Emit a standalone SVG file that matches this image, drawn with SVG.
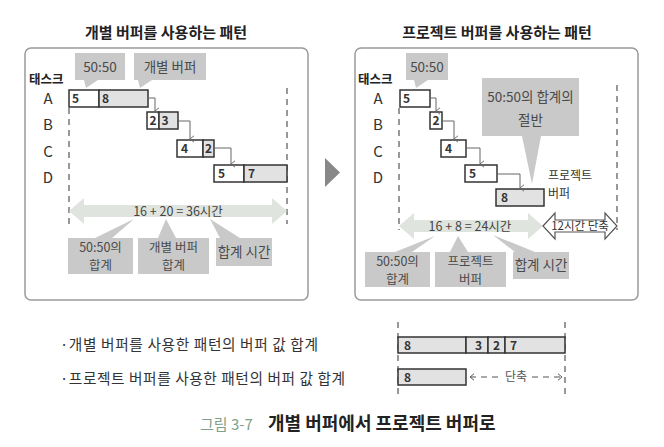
<svg xmlns="http://www.w3.org/2000/svg" width="664" height="447" viewBox="0 0 664 447">
<defs>
<style>
text{font-family:"Noto Sans CJK KR","Noto Sans",sans-serif}
.title{font-size:15px;font-weight:bold;fill:#222;text-anchor:middle}
.frame{fill:#fff;stroke:#9a9a9a;stroke-width:1.5}
.call{fill:#c9c9c9}
.ct{font-size:13.5px;fill:#4a4a4a;text-anchor:middle}
.ct2{font-size:12.5px;fill:#4a4a4a;text-anchor:middle}
.task{font-size:12.5px;font-weight:bold;fill:#222}
.row{font-size:15px;fill:#333;text-anchor:middle}
.box{fill:#fff;stroke:#333;stroke-width:1.5}
.buf{fill:#e2e2e2;stroke:#333;stroke-width:1.5}
.num{font-size:12px;font-weight:bold;fill:#333}
.dash{stroke:#555;stroke-width:1.2;stroke-dasharray:6 5;fill:none}
.conn{fill:none;stroke:#666;stroke-width:1}
.dbl{fill:#dfe4de}
.out{fill:#fff;stroke:#555;stroke-width:1.2}
.at{font-size:12.5px;fill:#444;text-anchor:middle}
.bl{font-size:14.7px;fill:#333}
</style>
<marker id="arr" viewBox="0 0 10 10" refX="5" refY="9" markerWidth="8" markerHeight="8" orient="auto-start-reverse" markerUnits="userSpaceOnUse">
<path d="M1,4 L5,9 L9,4" fill="none" stroke="#666" stroke-width="1.2"/>
</marker>
<marker id="oa" viewBox="0 0 10 10" refX="9" refY="5" markerWidth="8" markerHeight="8" orient="auto-start-reverse" markerUnits="userSpaceOnUse">
<path d="M4,1 L9,5 L4,9" fill="none" stroke="#555" stroke-width="1.2"/>
</marker>
</defs>
<rect width="664" height="447" fill="#fff"/>

<!-- LEFT PANEL -->
<g id="left-panel">
<text class="title" x="166" y="38">개별 버퍼를 사용하는 패턴</text>
<rect class="frame" x="25" y="48" width="283" height="252" rx="6"/>
</g>
<g id="left-callout-5050">
<rect class="call" x="75" y="53" width="50" height="27"/>
<polygon class="call" points="84,80 98,80 86,88"/>
<text class="ct" x="100" y="72" font-size="14">50:50</text>
</g>
<g id="left-callout-buffer">
<rect class="call" x="134" y="53" width="72" height="27"/>
<polygon class="call" points="138,80 152,80 140,88"/>
<text class="ct" x="170" y="72">개별 버퍼</text>
</g>
<g id="left-labels">
<text class="task" x="29" y="84">태스크</text>
<text class="row" x="48" y="104">A</text>
<text class="row" x="48" y="130">B</text>
<text class="row" x="48" y="157">C</text>
<text class="row" x="48" y="183">D</text>
</g>
<g id="left-dashes">
<line class="dash" x1="69" y1="108" x2="69" y2="224"/>
<line class="dash" x1="287" y1="88" x2="287" y2="224"/>
</g>
<g id="left-task-a">
<rect class="box" x="69" y="90" width="30" height="17"/>
<rect class="buf" x="99" y="90" width="49" height="17"/>
<text class="num" x="72" y="103">5</text>
<text class="num" x="102" y="103">8</text>
</g>
<g id="left-task-b">
<rect class="box" x="147" y="112" width="12" height="17"/>
<rect class="buf" x="159" y="112" width="19" height="17"/>
<text class="num" x="149.5" y="125">2</text>
<text class="num" x="161.5" y="125">3</text>
</g>
<g id="left-task-c">
<rect class="box" x="177" y="140" width="26" height="17"/>
<rect class="buf" x="203" y="140" width="11" height="17" fill="#ececec"/>
<text class="num" x="181" y="153">4</text>
<text class="num" x="205" y="153">2</text>
</g>
<g id="left-task-d">
<rect class="box" x="214" y="165" width="30" height="17"/>
<rect class="buf" x="244" y="165" width="43" height="17"/>
<text class="num" x="218" y="178">5</text>
<text class="num" x="248" y="178">7</text>
</g>
<g id="left-total">
<polygon class="dbl" points="69,211 84,198 84,205 272,205 272,198 287,211 272,224 272,217 84,217 84,224"/>
<text class="at" x="178" y="215.5">16 + 20 = 36시간</text>
</g>
<g id="left-callout-sum">
<polygon class="call" points="95,238 112,238 134,219"/>
<rect class="call" x="68" y="238" width="65" height="36"/>
<text class="ct2" x="100.5" y="251.5">50:50의</text>
<text class="ct2" x="100.5" y="270">합계</text>
</g>
<g id="left-callout-bufsum">
<polygon class="call" points="158,238 176,238 166,219"/>
<rect class="call" x="138" y="238" width="71" height="36"/>
<text class="ct2" x="173.5" y="251.5">개별 버퍼</text>
<text class="ct2" x="173.5" y="270">합계</text>
</g>
<g id="left-callout-total">
<polygon class="call" points="220,238 240,238 210,219"/>
<rect class="call" x="216" y="238" width="56" height="28"/>
<text class="ct" x="244" y="257">합계 시간</text>
</g>

<!-- TRANSITION -->
<g id="transition-arrow">
<polygon points="325,158 340,172.5 325,187" fill="#888"/>
</g>

<!-- RIGHT PANEL -->
<g id="right-panel">
<text class="title" x="497" y="38">프로젝트 버퍼를 사용하는 패턴</text>
<rect class="frame" x="355" y="48" width="283" height="252" rx="6"/>
</g>
<g id="right-callout-5050">
<rect class="call" x="406" y="53" width="42" height="27"/>
<polygon class="call" points="414,80 428,80 416,88"/>
<text class="ct" x="427" y="72" font-size="14">50:50</text>
</g>
<g id="right-labels">
<text class="task" x="358" y="84">태스크</text>
<text class="row" x="378" y="104">A</text>
<text class="row" x="378" y="130">B</text>
<text class="row" x="378" y="157">C</text>
<text class="row" x="378" y="183">D</text>
</g>
<g id="right-dashes">
<line class="dash" x1="399" y1="108" x2="399" y2="230"/>
<line class="dash" x1="617" y1="85" x2="617" y2="230"/>
</g>
<g id="right-callout-half">
<rect class="call" x="482" y="78" width="97" height="58"/>
<polygon class="call" points="522,136 541,136 532,184"/>
<text class="ct" x="530.5" y="102">50:50의 합계의</text>
<text class="ct" x="530.5" y="125">절반</text>
</g>
<g id="right-task-a">
<rect class="box" x="400" y="90" width="30" height="17"/>
<text class="num" x="403" y="103">5</text>
</g>
<g id="right-task-b">
<rect class="box" x="430" y="112" width="12" height="17"/>
<text class="num" x="432.5" y="125">2</text>
</g>
<g id="right-task-c">
<rect class="box" x="441" y="140" width="25" height="17"/>
<text class="num" x="445" y="153">4</text>
</g>
<g id="right-task-d">
<rect class="box" x="465" y="165" width="32" height="17"/>
<text class="num" x="469" y="178">5</text>
</g>
<g id="right-project-buffer">
<rect class="buf" x="496" y="189" width="48" height="17"/>
<text class="num" x="501" y="202">8</text>
<text x="548" y="179.5" font-size="12" fill="#333">프로젝트</text>
<text x="548" y="197.5" font-size="12" fill="#333">버퍼</text>
</g>
<g id="right-total">
<polygon class="dbl" points="399,226 414,213 414,220 528,220 528,213 543,226 528,239 528,232 414,232 414,239"/>
<text class="at" x="470" y="230.5">16 + 8 = 24시간</text>
</g>
<g id="right-saving">
<polygon class="out" points="543,226 555,213 555,220 605,220 605,213 617,226 605,239 605,232 555,232 555,239"/>
<text x="580" y="230" font-size="11.5" fill="#333" text-anchor="middle">12시간 단축</text>
</g>
<g id="right-callout-sum">
<polygon class="call" points="395,252 412,252 435,236"/>
<rect class="call" x="365" y="252" width="65" height="35"/>
<text class="ct2" x="397.5" y="265.5">50:50의</text>
<text class="ct2" x="397.5" y="283.5">합계</text>
</g>
<g id="right-callout-buf">
<polygon class="call" points="450,252 468,252 458,236"/>
<rect class="call" x="435" y="252" width="71" height="35"/>
<text class="ct2" x="470.5" y="265.5">프로젝트</text>
<text class="ct2" x="470.5" y="283.5">버퍼</text>
</g>
<g id="right-callout-total">
<polygon class="call" points="515,252 535,252 493,235"/>
<rect class="call" x="513" y="252" width="56" height="27"/>
<text class="ct" x="541" y="270">합계 시간</text>
</g>

<!-- CONNECTORS -->
<g id="connectors">
<path class="conn" d="M148,98 H155 V111" marker-end="url(#arr)"/>
<path class="conn" d="M178,121 H190 V139" marker-end="url(#arr)"/>
<path class="conn" d="M214,148 H231 V164" marker-end="url(#arr)"/>
<path class="conn" d="M430,98 H436 V111" marker-end="url(#arr)"/>
<path class="conn" d="M442,121 H454 V139" marker-end="url(#arr)"/>
<path class="conn" d="M466,148 H480 V164" marker-end="url(#arr)"/>
<path class="conn" d="M497,174 H520 V188" marker-end="url(#arr)"/>
</g>

<!-- BOTTOM COMPARISON -->
<g id="bottom-labels">
<text class="bl" x="60" y="350" textLength="258" lengthAdjust="spacing">·개별 버퍼를 사용한 패턴의 버퍼 값 합계</text>
<text class="bl" x="60" y="384" textLength="285" lengthAdjust="spacing">·프로젝트 버퍼를 사용한 패턴의 버퍼 값 합계</text>
</g>
<g id="bottom-dashes">
<line class="dash" x1="398" y1="322" x2="398" y2="397"/>
<line class="dash" x1="565" y1="322" x2="565" y2="397"/>
</g>
<g id="bar-individual">
<rect class="buf" x="398" y="337" width="68" height="16"/>
<rect class="buf" x="466" y="337" width="22" height="16"/>
<rect class="buf" x="488" y="337" width="17" height="16"/>
<rect class="buf" x="505" y="337" width="60" height="16"/>
<text class="num" x="404" y="350">8</text>
<text class="num" x="475" y="350">3</text>
<text class="num" x="493" y="350">2</text>
<text class="num" x="510" y="350">7</text>
</g>
<g id="bar-project">
<rect class="buf" x="398" y="369" width="68" height="16"/>
<text class="num" x="404" y="382">8</text>
<line class="dash" x1="470" y1="377" x2="500" y2="377" stroke-dasharray="5 4" stroke="#666" marker-start="url(#oa)"/>
<line class="dash" x1="532" y1="377" x2="562" y2="377" stroke-dasharray="5 4" stroke="#666" marker-end="url(#oa)"/>
<text x="516" y="381" font-size="12" fill="#555" text-anchor="middle">단축</text>
</g>

<g id="caption">
<text x="200" y="430" font-size="15" fill="#7fa08a">그림 3-7</text>
<text x="268" y="430" font-size="18" font-weight="bold" fill="#222">개별 버퍼에서 프로젝트 버퍼로</text>
</g>
</svg>
